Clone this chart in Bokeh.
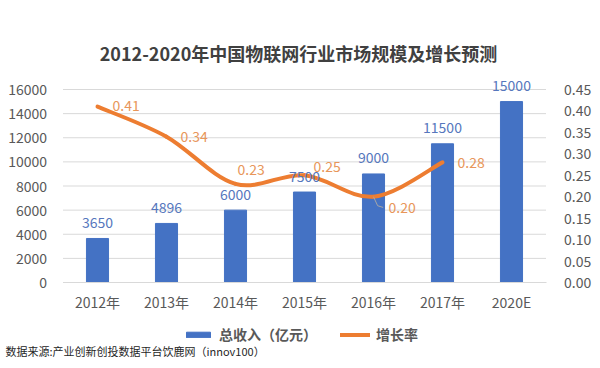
from bokeh.plotting import figure
from bokeh.models import (Range1d, LinearAxis, FixedTicker, NumeralTickFormatter,
                          ColumnDataSource, LabelSet, Label, Legend, LegendItem)
from bokeh.core.properties import value
from bokeh.embed import file_html
from bokeh.resources import INLINE

# ---- data ----
categories = ["2012年", "2013年", "2014年", "2015年", "2016年", "2017年", "2020E"]
revenue = [3650, 4896, 6000, 7500, 9000, 11500, 15000]
growth = [0.41, 0.34, 0.23, 0.25, 0.20, 0.28]
left_ticks = [0, 2000, 4000, 6000, 8000, 10000, 12000, 14000, 16000]
right_ticks = [0.0, 0.05, 0.10, 0.15, 0.20, 0.25, 0.30, 0.35, 0.40, 0.45]
title_text = "2012-2020年中国物联网行业市场规模及增长预测"
source_text = "数据来源:产业创新创投数据平台饮鹿网（innov100）"

# label offsets (style, px)
growth_dx = [15, 14, 2, 9, 15, 15]
growth_dy = [1, 0, 14, 9, -11, 0]

FONT = "'Noto Sans CJK SC', 'Noto Sans', sans-serif"
BLUE = "#4472C4"
ORANGE = "#ED7D31"
GREY = "#595959"
GRID = "#d9d9d9"

# ---- layout (pixels inside the figure) ----
W, H = 592, 360
A_LEFT, A_RIGHT, A_TOP, A_BOTTOM = 62.5, 545.5, 89, 282  # chart area
X0, X1 = -0.5, 6.5
Y1, R1 = 16000, 0.45
xpp = (X1 - X0) / (A_RIGHT - A_LEFT)
ypp = Y1 / (A_BOTTOM - A_TOP)
rpp = R1 / (A_BOTTOM - A_TOP)
x_range = Range1d(X0 - A_LEFT * xpp, X1 + (W - A_RIGHT) * xpp)
y_range = Range1d(-(H - A_BOTTOM) * ypp, Y1 + A_TOP * ypp)
r_range = Range1d(-(H - A_BOTTOM) * rpp, R1 + A_TOP * rpp)

idx = list(range(len(categories)))
gidx = list(range(len(growth)))

p = figure(width=W, height=H, x_range=x_range, y_range=y_range,
           output_backend="svg", toolbar_location=None,
           min_border=0, x_axis_type=None, y_axis_type=None)
p.outline_line_color = None
p.extra_y_ranges = {"rate": r_range}
p.grid.visible = False

# gridlines of the left axis
p.segment(x0=X0, x1=X1, y0=left_ticks, y1=left_ticks, line_color=GRID, line_width=1)

# axes drawn at fixed data locations
xa = LinearAxis(fixed_location=0, bounds=(X0, X1), ticker=FixedTicker(ticks=idx))
xa.major_label_overrides = {i: c for i, c in zip(idx, categories)}
xa.axis_line_color = GRID
xa.major_tick_line_color = None
xa.minor_tick_line_color = None
xa.major_label_standoff = 3
xa.major_label_text_font = FONT
xa.major_label_text_font_size = "14px"
xa.major_label_text_color = GREY
p.add_layout(xa, "below")

ya = LinearAxis(fixed_location=X0, bounds=(0, Y1), ticker=FixedTicker(ticks=left_ticks))
ya.axis_line_color = None
ya.major_tick_line_color = None
ya.minor_tick_line_color = None
ya.major_label_standoff = 10
ya.major_label_text_font = FONT
ya.major_label_text_font_size = "14px"
ya.major_label_text_color = GREY
p.add_layout(ya, "left")

ry = LinearAxis(y_range_name="rate", fixed_location=X1, bounds=(0, R1),
                ticker=FixedTicker(ticks=right_ticks),
                formatter=NumeralTickFormatter(format="0.00"))
ry.axis_line_color = None
ry.major_tick_line_color = None
ry.minor_tick_line_color = None
ry.major_label_standoff = 12
ry.major_label_text_font = FONT
ry.major_label_text_font_size = "14px"
ry.major_label_text_color = GREY
p.add_layout(ry, "right")

# bars
src = ColumnDataSource(dict(x=idx, rev=revenue, txt=[str(v) for v in revenue]))
bars = p.vbar(x="x", top="rev", width=0.32, bottom=0, color=BLUE, source=src)
p.add_layout(LabelSet(x="x", y="rev", text="txt", source=src, y_offset=16,
                      text_align="center", text_baseline="middle",
                      text_font=value(FONT), text_font_size="14px", text_color="#5677BD"))

# smooth growth line (Catmull-Rom style bezier through data points)
n = len(growth)
x0, y0, x1, y1, cx0, cy0, cx1, cy1 = [], [], [], [], [], [], [], []
for i in range(n - 1):
    xp, yp = gidx[max(i - 1, 0)], growth[max(i - 1, 0)]
    xa_, ya_ = gidx[i], growth[i]
    xb, yb = gidx[i + 1], growth[i + 1]
    xn, yn = gidx[min(i + 2, n - 1)], growth[min(i + 2, n - 1)]
    x0.append(xa_); y0.append(ya_); x1.append(xb); y1.append(yb)
    cx0.append(xa_ + (xb - xp) / 6); cy0.append(ya_ + (yb - yp) / 6)
    cx1.append(xb - (xn - xa_) / 6); cy1.append(yb - (yn - ya_) / 6)
curve = p.bezier(x0=x0, y0=y0, x1=x1, y1=y1, cx0=cx0, cy0=cy0, cx1=cx1, cy1=cy1,
                 line_color=ORANGE, line_width=4, line_cap="round", y_range_name="rate")

# leader line for the 2016 label
p.line(x=[gidx[4], gidx[4] + 0.06, gidx[4] + 0.14],
       y=[growth[4], growth[4] - 0.021, growth[4] - 0.025],
       line_color="#a6a6a6", line_width=1, y_range_name="rate")

gsrc = ColumnDataSource(dict(x=gidx, g=growth, txt=["%.2f" % v for v in growth],
                             dx=growth_dx, dy=growth_dy))
p.add_layout(LabelSet(x="x", y="g", text="txt", source=gsrc, y_range_name="rate",
                      x_offset="dx", y_offset="dy", text_align="left", text_baseline="middle",
                      text_font=value(FONT), text_font_size="14px", text_color="#E8965A"))

# title and source
p.add_layout(Label(x=3, y=Y1, x_offset=-6, y_offset=37, text=title_text,
                   text_align="center", text_baseline="middle", text_font=FONT,
                   text_font_size="18px", text_font_style="bold", text_color="#404040"))
p.add_layout(Label(x=X0, y=0, x_offset=5 - A_LEFT, y_offset=-68, text=source_text,
                   text_align="left", text_baseline="middle", text_font=FONT,
                   text_font_size="11px", text_color="#262626"))

# legend
legend = Legend(items=[LegendItem(label="总收入（亿元）", renderers=[bars]),
                       LegendItem(label="增长率", renderers=[curve])],
                orientation="horizontal", location=(183, 16),
                glyph_width=30, glyph_height=7, label_height=16, label_standoff=6, spacing=23,
                padding=0, margin=0, border_line_alpha=0, background_fill_alpha=0,
                label_text_font=FONT, label_text_font_size="14px",
                label_text_font_style="bold", label_text_color=GREY)
p.add_layout(legend, "center")

open("out.html", "w").write(file_html(p, INLINE))
